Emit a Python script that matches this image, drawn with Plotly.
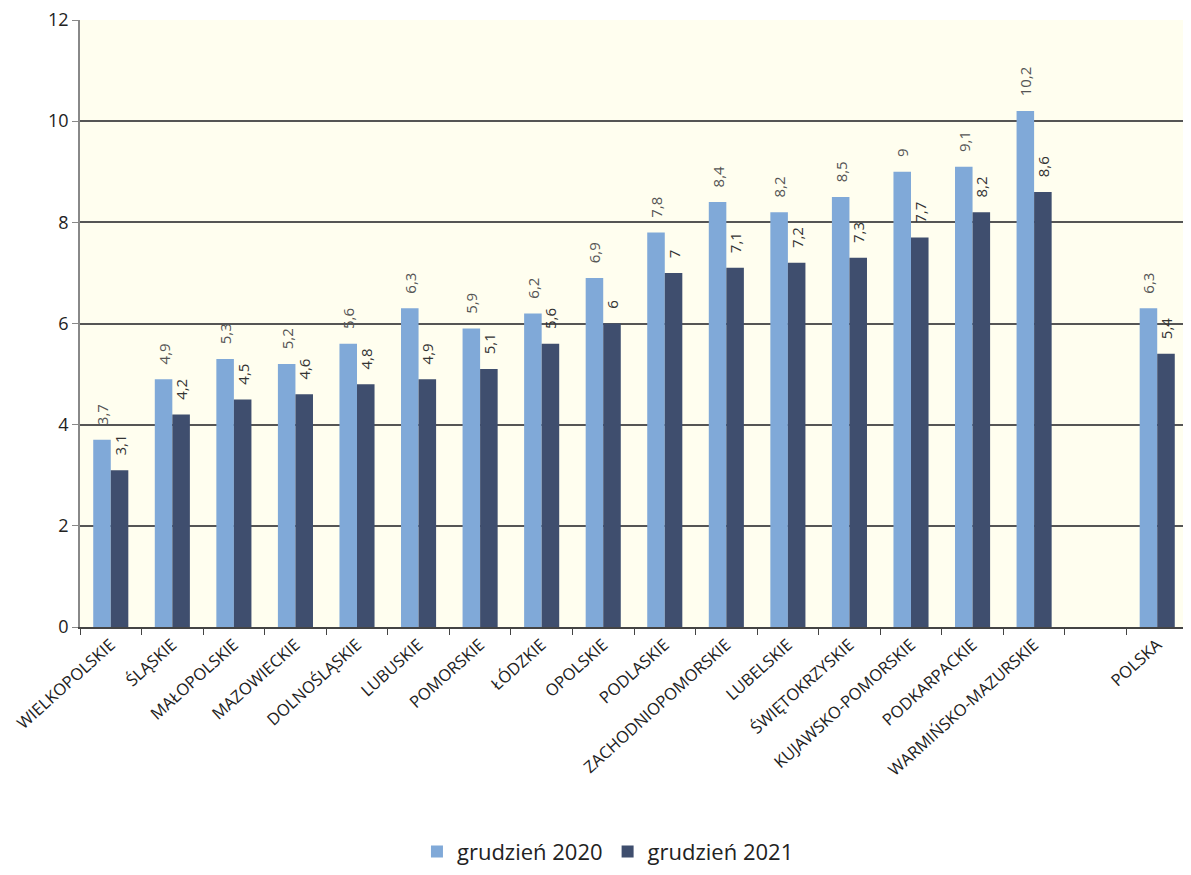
import plotly.graph_objects as go

categories = ["WIELKOPOLSKIE", "ŚLĄSKIE", "MAŁOPOLSKIE", "MAZOWIECKIE", "DOLNOŚLĄSKIE",
              "LUBUSKIE", "POMORSKIE", "ŁÓDZKIE", "OPOLSKIE", "PODLASKIE",
              "ZACHODNIOPOMORSKIE", "LUBELSKIE", "ŚWIĘTOKRZYSKIE", "KUJAWSKO-POMORSKIE",
              "PODKARPACKIE", "WARMIŃSKO-MAZURSKIE", " ", "POLSKA"]
values_2020 = [3.7, 4.9, 5.3, 5.2, 5.6, 6.3, 5.9, 6.2, 6.9, 7.8, 8.4, 8.2, 8.5, 9, 9.1, 10.2, None, 6.3]
values_2021 = [3.1, 4.2, 4.5, 4.6, 4.8, 4.9, 5.1, 5.6, 6, 7, 7.1, 7.2, 7.3, 7.7, 8.2, 8.6, None, 5.4]
y_ticks = [0, 2, 4, 6, 8, 10, 12]


def fmt(v):
    if v is None:
        return ""
    s = f"{v:g}"
    return "\u00a0\u00a0\u00a0" + s.replace(".", ",")


font_family = "Open Sans, Noto Sans, sans-serif"

fig = go.Figure()
fig.add_trace(go.Bar(
    name="grudzień 2020", x=categories, y=values_2020,
    marker=dict(color="#80A9D8", line=dict(width=0)),
    text=[fmt(v) for v in values_2020], textposition="outside", textangle=-90,
    textfont=dict(size=15, color="#555555", family=font_family),
    cliponaxis=False, constraintext="none",
))
fig.add_trace(go.Bar(
    name="grudzień 2021", x=categories, y=values_2021,
    marker=dict(color="#3F4E6E", line=dict(width=0)),
    text=[fmt(v) for v in values_2021], textposition="outside", textangle=-90,
    textfont=dict(size=15, color="#333333", family=font_family),
    cliponaxis=False, constraintext="none",
))

fig.update_layout(
    width=1191, height=875,
    margin=dict(l=72, r=11, t=12, b=250),
    paper_bgcolor="white",
    plot_bgcolor="#FFFEEF",
    barmode="group",
    bargap=0.43,
    bargroupgap=0.0,
    font=dict(family=font_family, color="#222222"),
    showlegend=True,
    legend=dict(orientation="h", x=0.4765, xanchor="center", y=-0.370, yanchor="middle",
                font=dict(size=22, color="#222222"), itemsizing="constant",
                traceorder="normal", itemwidth=30, tracegroupgap=0),
)
fig.update_xaxes(
    type="category", categoryorder="array", categoryarray=categories,
    tickangle=-42, tickfont=dict(size=16.5, color="#222222"),
    ticks="outside", tickson="boundaries", ticklen=6, tickcolor="#444444",
    showline=True, linecolor="#444444", linewidth=1.5,
    showgrid=False, automargin=False, ticklabeloverflow="allow",
)
fig.update_yaxes(
    range=[0, 12], tickvals=y_ticks, ticktext=[str(t) for t in y_ticks],
    tickfont=dict(size=18, color="#222222"),
    showgrid=True, gridcolor="#555555", gridwidth=1.5,
    showline=True, linecolor="#888888", linewidth=1.5,
    ticks="outside", ticklen=6, tickcolor="#888888",
    zeroline=False, automargin=False, ticklabeloverflow="allow",
)

fig.write_html("out.html")
